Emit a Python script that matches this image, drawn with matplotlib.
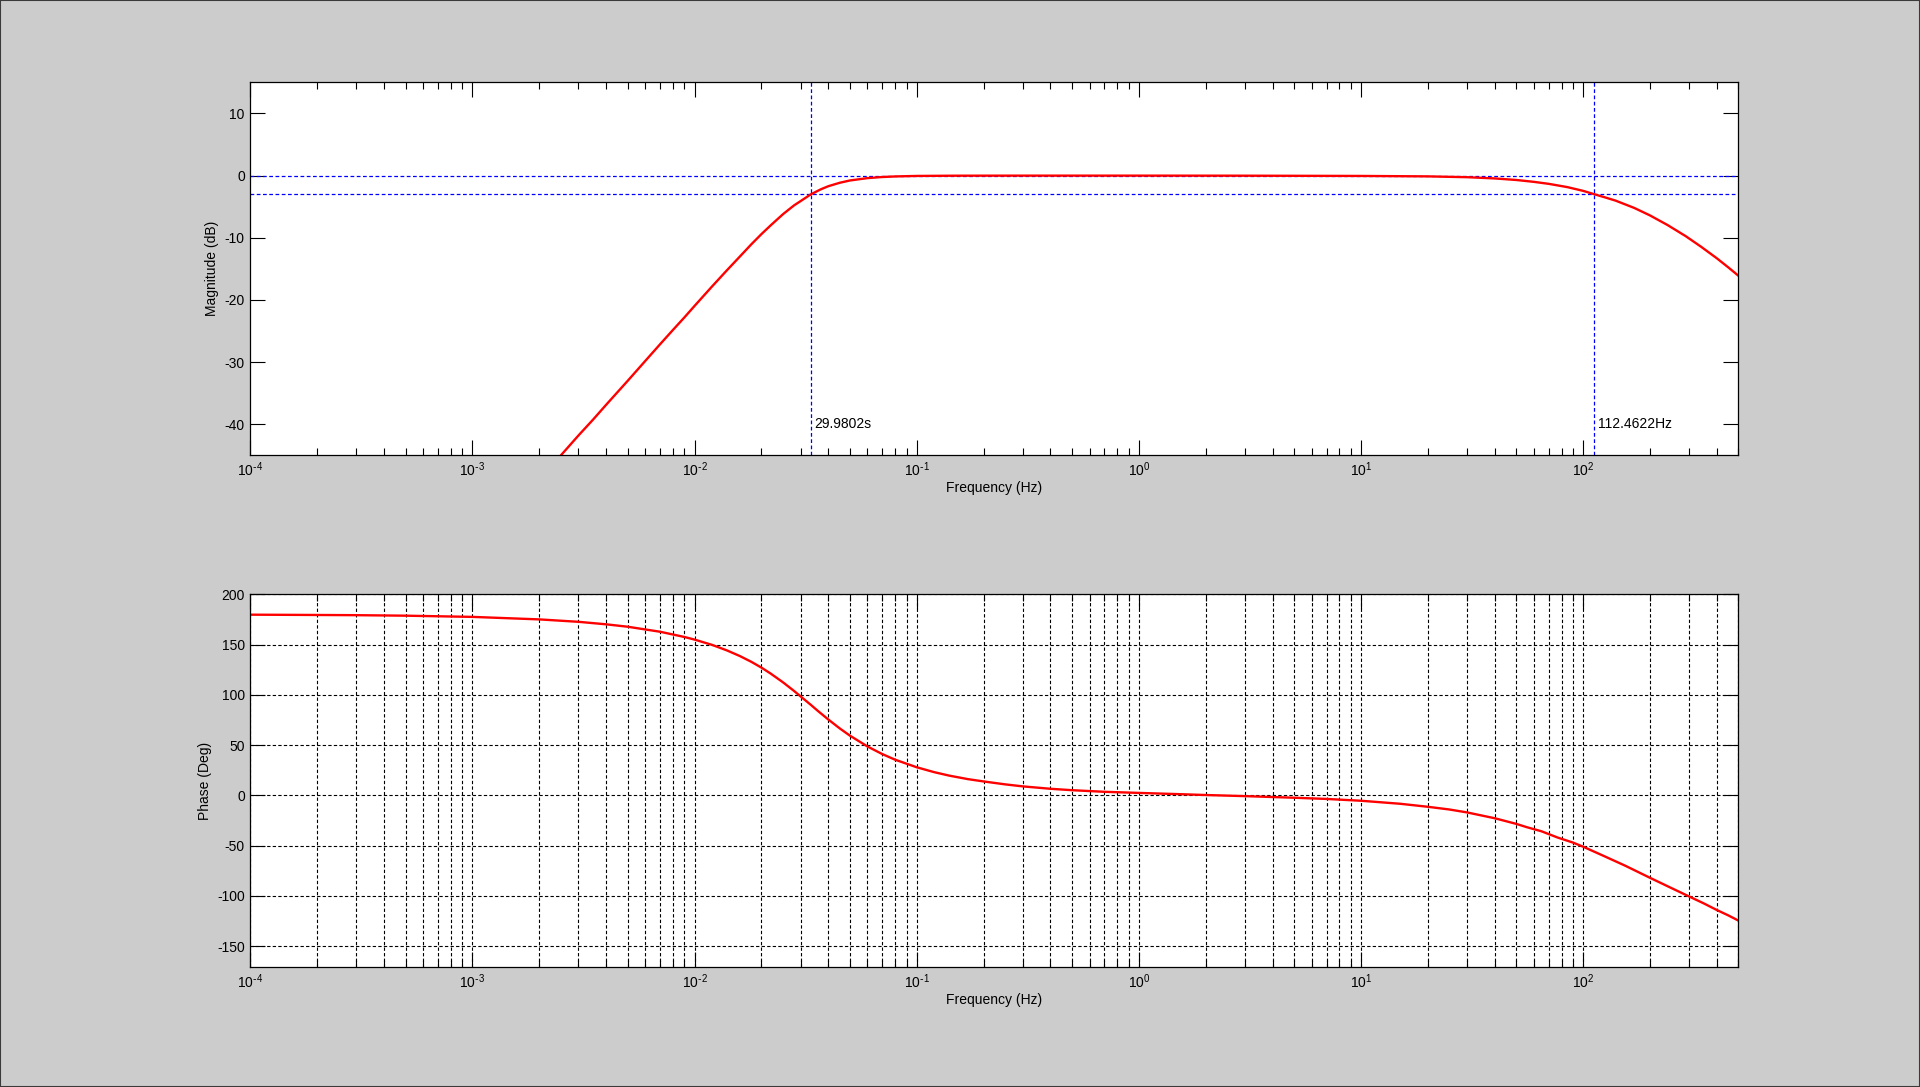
import numpy as np
import matplotlib.pyplot as plt
from matplotlib.patches import Rectangle
from matplotlib.ticker import LogLocator, NullLocator, MultipleLocator, FuncFormatter

# values (Hz, dB / deg)
mag_freq = [0.0023, 0.0025, 0.003, 0.0035, 0.004, 0.005, 0.006, 0.007, 0.008, 0.009,
            0.01, 0.012, 0.014, 0.016, 0.018, 0.02, 0.022, 0.025, 0.028, 0.0334,
            0.037, 0.04, 0.045, 0.05, 0.06, 0.07, 0.08, 0.1, 0.15, 0.3,
            1, 3, 10, 20, 30, 40, 50, 60, 70, 85,
            100, 112.5, 125, 140, 170, 200, 240, 290, 340, 400,
            450, 500]
mag_db = [-46.45, -45.0, -41.8, -39.2, -36.85, -33.0, -29.8, -27.1, -24.8, -22.8,
          -20.95, -17.8, -15.2, -13.0, -11.05, -9.4, -8.0, -6.2, -4.8, -3.0,
          -2.2, -1.7, -1.15, -0.78, -0.4, -0.22, -0.13, -0.05, -0.01, 0.0,
          0.0, -0.01, -0.05, -0.12, -0.25, -0.45, -0.7, -1.0, -1.32, -1.85,
          -2.45, -3.0, -3.48, -4.02, -5.2, -6.4, -7.95, -9.75, -11.45, -13.3,
          -14.75, -16.1]

phase_freq = [1e-4, 2e-4, 3e-4, 5e-4, 1e-3, 2e-3, 3e-3, 4e-3, 5e-3, 7e-3,
              9e-3, 0.01, 0.012, 0.014, 0.016, 0.018, 0.02, 0.022, 0.025, 0.028,
              0.031, 0.0334, 0.036, 0.04, 0.045, 0.05, 0.06, 0.07, 0.08, 0.1,
              0.12, 0.14, 0.17, 0.2, 0.25, 0.3, 0.4, 0.5, 0.7, 1,
              1.5, 2, 3, 5, 7, 10, 15, 20, 25, 30,
              40, 50, 55.6, 65, 77, 90, 100, 125, 155, 180,
              202, 250, 300, 350, 400, 450, 500]
phase_deg = [179.8, 179.5, 179.3, 178.8, 177.6, 175.1, 172.7, 170.2, 167.8, 162.8,
             157.6, 155.0, 149.7, 144.2, 138.6, 132.9, 127.1, 121.2, 112.5, 104.0,
             95.9, 90.0, 83.8, 75.5, 66.7, 59.5, 48.7, 41.1, 35.5, 28.0,
             23.1, 19.7, 16.2, 13.9, 11.0, 9.0, 6.6, 5.2, 3.6, 2.5,
             1.3, 0.4, -0.7, -2.3, -3.5, -5.3, -8.3, -11.3, -14.0, -16.9,
             -22.7, -28.3, -31.5, -35.7, -42.0, -46.9, -51.0, -60.6, -70.0, -77.0,
             -82.4, -92.2, -100.5, -107.5, -114.0, -119.3, -124.5]

# cutoff markers
t_low = 29.9802          # period of the low corner (s)
f_high = 112.4622        # high corner (Hz)
level_lines = [0, -3]

plt.rcParams['font.family'] = ['Liberation Sans', 'DejaVu Sans']
plt.rcParams['mathtext.default'] = 'regular'
plt.rcParams['axes.unicode_minus'] = False
plt.rcParams['font.size'] = 10

BG = '#cccccc'
DASH = (0, (3, 2))


def decade_label(x, pos):
	# 10^n with a plain hyphen like the original
	n = int(round(np.log10(x)))
	if n < 0:
		return r'$\mathdefault{10^{\text{-}%d}}$' % (-n)
	return r'$\mathdefault{10^{%d}}$' % n


def setup_axes(ax, ylim):
	ax.set_xscale('log')
	ax.set_xlim(1e-4, 500)
	ax.set_ylim(*ylim)
	ax.xaxis.set_major_locator(LogLocator(base=10, numticks=20))
	ax.xaxis.set_minor_locator(LogLocator(base=10, subs=np.arange(2, 10), numticks=20))
	ax.xaxis.set_major_formatter(FuncFormatter(decade_label))
	ax.tick_params(which='both', direction='in', top=True, right=True, width=0.8, colors='black')
	ax.tick_params(which='major', length=10.5, pad=4)
	ax.tick_params(which='minor', length=5.3)
	ax.yaxis.set_minor_locator(NullLocator())
	for s in ax.spines.values():
		s.set_linewidth(0.9)
	ax.set_xlabel('Frequency (Hz)', labelpad=1)


fig = plt.figure(figsize=(19.2, 10.87), dpi=100, facecolor=BG)

# magnitude
ax1 = fig.add_axes([0.1304, 0.5811, 0.775, 0.3431])
setup_axes(ax1, (-45, 15))
ax1.yaxis.set_major_locator(MultipleLocator(10))
for lvl in level_lines:
	ax1.axhline(lvl, color='blue', lw=0.9, ls=DASH)
for f in [1 / t_low, f_high]:
	ax1.axvline(f, color='blue', lw=0.9, ls=DASH)
ax1.plot(mag_freq, mag_db, color='red', lw=1.7)
ax1.annotate(f'{t_low:.4f}s', (1 / t_low, -40), xytext=(2.5, 0), textcoords='offset points',
             ha='left', va='center')
ax1.annotate(f'{f_high:.4f}Hz', (f_high, -40), xytext=(2.5, 0), textcoords='offset points',
             ha='left', va='center')
ax1.set_ylabel('Magnitude (dB)', labelpad=4)

# phase
ax2 = fig.add_axes([0.1304, 0.1101, 0.775, 0.3431])
setup_axes(ax2, (-171, 200))
ax2.yaxis.set_major_locator(MultipleLocator(50))
ax2.grid(True, which='major', axis='both', color='black', lw=0.8, ls=DASH)
ax2.grid(True, which='minor', axis='x', color='black', lw=0.8, ls=DASH)
ax2.plot(phase_freq, phase_deg, color='red', lw=1.7)
ax2.set_ylabel('Phase (Deg)', labelpad=4)

# window frame
fig.patches.append(Rectangle((0, 0), 1, 1, transform=fig.transFigure, fill=False,
                             edgecolor='#3a3a3a', lw=1.5))

fig.savefig('out.png', dpi=100, facecolor=BG)
